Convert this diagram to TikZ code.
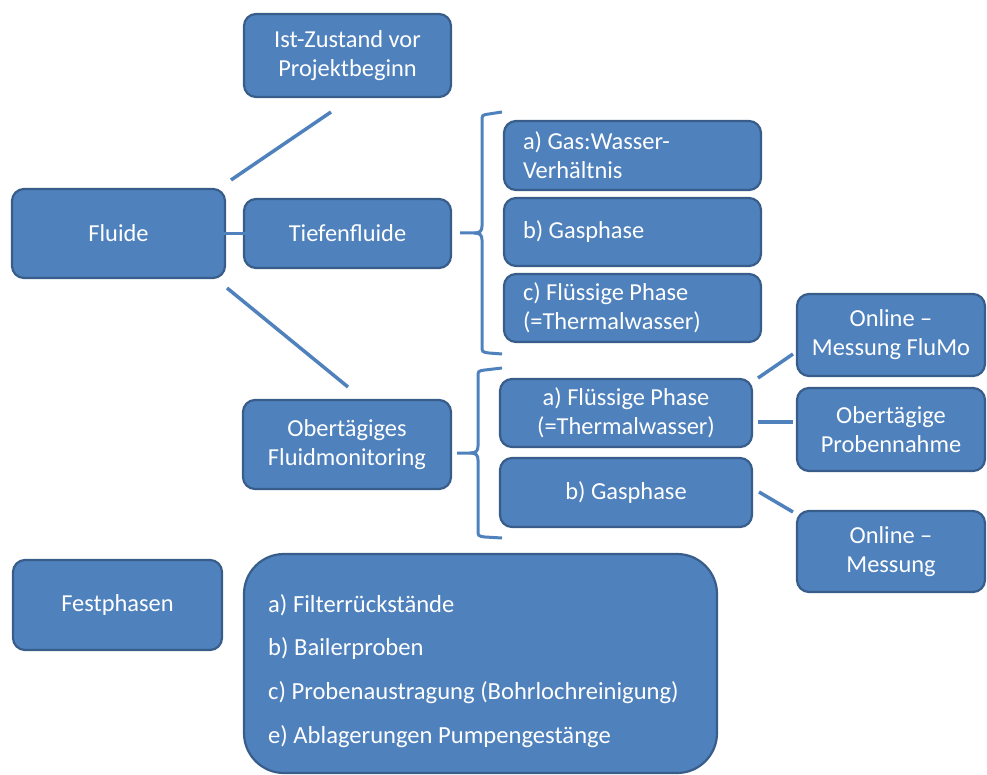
\documentclass[tikz,border=0pt]{standalone}
\usepackage{fontspec}
\setmainfont{Carlito}
\usetikzlibrary{calc}
\definecolor{boxfill}{HTML}{4F81BD}
\definecolor{boxdraw}{HTML}{385D8A}
\definecolor{linecol}{HTML}{4F81BD}
\begin{document}
\begin{tikzpicture}[x=1pt,y=-1pt,
  box/.style={draw=boxdraw, fill=boxfill, line width=2.2pt, rounded corners=12pt,
    text=white, font=\fontsize{24.4}{29}\selectfont, align=center, inner sep=0pt},
  leftbox/.style={box, align=flush left, text width=219pt, inner xsep=19pt, minimum width=255pt},
  bigbox/.style={draw=boxdraw, fill=boxfill, line width=2.2pt, rounded corners=40pt, inner sep=0pt},
  bigtext/.style={text=white, font=\fontsize{24.6}{29}\selectfont, inner sep=0pt, anchor=base west},
  conn/.style={draw=linecol, line width=3.5pt},
  bracket/.style={draw=linecol, line width=3pt}]
\useasboundingbox (0,0) rectangle (987,775);

% left column
\node[box, minimum width=207pt, minimum height=83pt] (ist) at (347.5,55.5) {Ist-Zustand vor\\Projektbeginn};
\node[box, minimum width=213pt, minimum height=89pt] (fluide) at (118.5,233.5) {Fluide};
\node[box, minimum width=207pt, minimum height=69pt] (tiefen) at (347.5,233.5) {Tiefenfluide};
\node[box, minimum width=208pt, minimum height=89pt] (ober) at (347,444.5) {Obertägiges\\Fluidmonitoring};
\node[box, minimum width=209pt, minimum height=90pt] (fest) at (117.5,605) {Festphasen};

% Tiefenfluide sub boxes
\node[leftbox, minimum height=69pt] (ta) at (632.5,155.5) {a) Gas:Wasser-\\Verhältnis};
\node[leftbox, minimum height=68pt] (tb) at (632.5,232) {b) Gasphase};
\node[leftbox, minimum height=68pt] (tc) at (632.5,308) {c) Flüssige Phase\\(=Thermalwasser)};

% Obertaegiges sub boxes
\node[box, minimum width=252pt, minimum height=68pt] (oa) at (626,413) {a) Flüssige Phase\\(=Thermalwasser)};
\node[box, minimum width=252pt, minimum height=69pt] (ob) at (626,492.5) {b) Gasphase};

% right column
\node[box, minimum width=188pt, minimum height=82pt] (on1) at (891,335) {Online –\\Messung FluMo};
\node[box, minimum width=188pt, minimum height=83pt] (on2) at (891,429.5) {Obertägige\\Probennahme};
\node[box, minimum width=188pt, minimum height=81pt] (on3) at (891,551.5) {Online –\\Messung};

% big box
\node[bigbox, minimum width=473pt, minimum height=219pt] (big) at (480.5,663.5) {};
\node[bigtext] (b1) at (268,612) {a) Filterrückstände};
\node[bigtext] (b2) at (268,655.5) {b) Bailerproben};
\node[bigtext] (b3) at (268,699.5) {c) Probenaustragung (Bohrlochreinigung)};
\node[bigtext] (b4) at (268,743) {e) Ablagerungen Pumpengestänge};

% connectors
\coordinate (c1a) at (231,180);
\coordinate (c1b) at (331,112);
\draw[conn] (c1a) -- (c1b);
\draw[conn] ($(fluide.east)+(-8,0)$) -- ($(tiefen.west)+(7,0)$);
\coordinate (c2a) at (227,288);
\coordinate (c2b) at (348,387);
\draw[conn] (c2a) -- (c2b);
\coordinate (c3a) at (758,378);
\coordinate (c3b) at (793,354);
\draw[conn] (c3a) -- (c3b);
\coordinate (c4a) at (758,422);
\coordinate (c4b) at (793,422);
\draw[conn] (c4a) -- (c4b);
\coordinate (c5a) at (759,492);
\coordinate (c5b) at (793,512);
\draw[conn] (c5a) -- (c5b);

% braces
\coordinate (br1) at (460,233);
\draw[bracket] (502,112) -- (489,114) .. controls (482,115) .. (482,121) -- (482,226)
  .. controls (482,231) and (480,233) .. (474,233) -- (br1);
\draw[bracket] (474,233) .. controls (480,233) and (482,235) .. (482,240) -- (482,346)
  .. controls (482,352) .. (489,353) -- (502,354);
\coordinate (br2) at (457,453);
\draw[bracket] (502,368) -- (485,370) .. controls (478,371) .. (478,377) -- (478,446)
  .. controls (478,451) and (476,453) .. (470,453) -- (br2);
\draw[bracket] (470,453) .. controls (476,453) and (478,455) .. (478,460) -- (478,530)
  .. controls (478,536) .. (485,537) -- (502,538);
\end{tikzpicture}
\end{document}
